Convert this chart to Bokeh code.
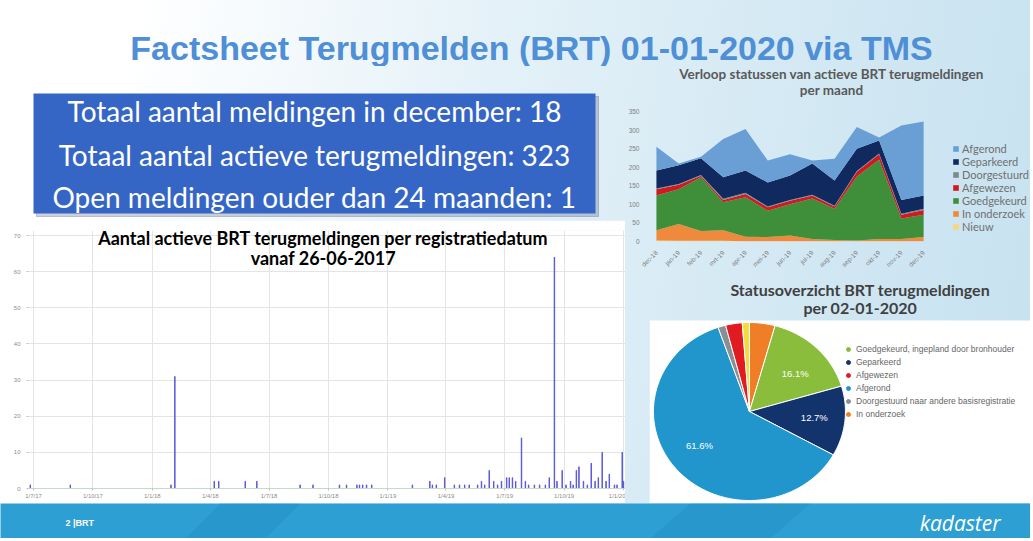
import numpy as np
import pandas as pd
from math import pi
from bokeh.plotting import figure
from bokeh.layouts import column, row
from bokeh.models import (ColumnDataSource, Range1d, FixedTicker, Legend, LegendItem, Label)
from bokeh.core.properties import value
from bokeh.embed import file_html
from bokeh.resources import INLINE

# ---------------- data ----------------
main_title = "Factsheet Terugmelden (BRT) 01-01-2020 via TMS"
stats_lines = ["Totaal aantal meldingen in december: 18",
               "Totaal aantal actieve terugmeldingen: 323",
               "Open meldingen ouder dan 24 maanden: 1"]

bar_title = ["Aantal actieve BRT terugmeldingen per registratiedatum", "vanaf 26-06-2017"]
bar_dates = ["2017-06-26", "2017-08-27", "2018-01-30", "2018-02-05", "2018-04-07", "2018-04-14",
             "2018-05-25", "2018-06-12", "2018-08-18", "2018-09-07", "2018-10-18", "2018-10-29",
             "2018-11-14", "2018-11-18", "2018-11-23", "2018-11-29", "2018-12-07", "2019-02-08",
             "2019-03-07", "2019-03-11", "2019-03-17", "2019-03-30", "2019-04-14", "2019-04-22",
             "2019-04-30", "2019-05-07", "2019-05-20", "2019-05-26", "2019-05-31", "2019-06-07",
             "2019-06-14", "2019-06-20", "2019-06-26", "2019-07-04", "2019-07-08", "2019-07-13",
             "2019-07-18", "2019-07-27", "2019-08-02", "2019-08-07", "2019-08-16", "2019-08-24",
             "2019-09-02", "2019-09-08", "2019-09-16", "2019-09-20", "2019-09-28", "2019-10-04",
             "2019-10-11", "2019-10-15", "2019-10-20", "2019-10-24", "2019-10-31", "2019-11-06",
             "2019-11-12", "2019-11-18", "2019-11-23", "2019-11-29", "2019-12-05", "2019-12-10",
             "2019-12-18", "2019-12-22", "2019-12-30", "2020-01-01"]
bar_counts = [1, 1, 1, 31, 2, 2, 2, 2, 1, 1,
              1, 1, 1, 1, 1, 1, 1, 1, 2, 1,
              1, 3, 1, 1, 1, 1, 1, 2, 1, 5,
              2, 1, 2, 3, 3, 3, 2, 14, 2, 1,
              1, 1, 1, 3, 64, 2, 5, 1, 2, 1,
              5, 6, 2, 1, 7, 2, 3, 10, 2, 4,
              1, 1, 10, 2]
bar_tick_dates = ["2017-07-01", "2017-10-01", "2018-01-01", "2018-04-01", "2018-07-01", "2018-10-01",
                  "2019-01-01", "2019-04-01", "2019-07-01", "2019-10-01", "2020-01-01"]
bar_tick_labels = ["1/7/17", "1/10/17", "1/1/18", "1/4/18", "1/7/18", "1/10/18",
                   "1/1/19", "1/4/19", "1/7/19", "1/10/19", "1/1/20"]
bar_y_ticks = [0, 10, 20, 30, 40, 50, 60, 70]

area_title = ["Verloop statussen van actieve BRT terugmeldingen", "per maand"]
months = ["dec-18", "jan-19", "feb-19", "mrt-19", "apr-19", "mei-19", "jun-19",
          "jul-19", "aug-19", "sep-19", "okt-19", "nov-19", "dec-19"]
nieuw = [3, 2, 2, 2, 1, 1, 1, 1, 1, 1, 1, 1, 1]
in_onderzoek = [27, 45, 26, 28, 12, 11, 15, 6, 3, 2, 6, 6, 11]
goedgekeurd = [94, 94, 145, 76, 106, 71, 84, 109, 84, 172, 213, 55, 60]
afgewezen = [17, 12, 4, 6, 9, 9, 10, 8, 6, 13, 15, 10, 13]
doorgestuurd = [2, 2, 2, 3, 3, 2, 2, 2, 2, 2, 2, 3, 3]
geparkeerd = [48, 50, 45, 58, 60, 65, 66, 84, 68, 60, 35, 37, 36]
afgerond = [64, 5, 4, 103, 112, 59, 57, 8, 59, 58, 8, 200, 199]
area_names = ["Nieuw", "In onderzoek", "Goedgekeurd", "Afgewezen", "Doorgestuurd", "Geparkeerd", "Afgerond"]
area_y_ticks = [0, 50, 100, 150, 200, 250, 300, 350]

pie_title = ["Statusoverzicht BRT terugmeldingen", "per 02-01-2020"]
pie_status = ["In onderzoek", "Goedgekeurd, ingepland door bronhouder", "Geparkeerd", "Afgerond",
              "Doorgestuurd naar andere basisregistratie", "Afgewezen", "Nieuw"]
pie_pct = [4.3, 16.1, 12.7, 61.6, 1.3, 2.8, 1.2]
pie_legend = ["Goedgekeurd, ingepland door bronhouder", "Geparkeerd", "Afgewezen", "Afgerond",
              "Doorgestuurd naar andere basisregistratie", "In onderzoek"]

footer_left = "2 |BRT"
footer_right = "kadaster"

# ---------------- style ----------------
FONT = "Lato"
AREA_COLORS = ["#f6d77c", "#ef8a3c", "#3f8f3a", "#cf1a1f", "#7d8a87", "#10295e", "#6a9fd6"]
PIE_COLORS = ["#f07e26", "#8bbd3c", "#12336b", "#2196cc", "#8a8f94", "#e01b22", "#f3dc3a"]
DAY = 86400000


def ms(d):
    return int(pd.Timestamp(d).value // 10**6)


def blank(p):
    p.grid.visible = False
    p.outline_line_color = None
    p.background_fill_color = None
    p.border_fill_color = None
    return p


W = 1030
LEFT_W = 625
RIGHT_W = W - LEFT_W
LEFT_B = 28    # shared left border of the left column
RIGHT_B = 20   # shared left border of the right column

# ---- title strip (page y 0-66) ----
pt = blank(figure(width=W, height=66, x_range=Range1d(0, W), y_range=Range1d(66, 0),
                  x_axis_location=None, y_axis_location=None, min_border=0,
                  output_backend="svg", toolbar_location=None))
pt.text(x=[531], y=[47], text=[main_title], text_font=value("Liberation Sans"),
        text_font_style="bold", text_font_size="34px", text_color="#4f8fd6",
        text_align="center", text_baseline="middle")

# ---- stats box (page y 66-220) ----
ps = blank(figure(width=LEFT_W, height=154, x_range=Range1d(LEFT_B, LEFT_W), y_range=Range1d(154, 0),
                  x_axis_location=None, y_axis_location=None, min_border=0, min_border_left=LEFT_B,
                  output_backend="svg", toolbar_location=None))
ps.quad(left=[36], right=[598], top=[30], bottom=[150], color="#1c2f55", alpha=0.22)
ps.quad(left=[33], right=[595], top=[27], bottom=[147], color="#3566c6", line_color=None)
ps.text(x=[314] * 3, y=[44, 88, 130], text=stats_lines, text_font=value(FONT),
        text_font_size="28px", text_color="white", text_align="center", text_baseline="middle")

# ---- bar chart (page y 220-503) ----
px_per_day = 0.6455
x0 = ms("2017-07-01") - 5 / px_per_day * DAY
x1 = x0 + (LEFT_W - LEFT_B) / px_per_day * DAY
bx = [ms(d) for d in bar_dates]
pb = figure(width=LEFT_W, height=283, x_range=Range1d(x0, x1), y_range=Range1d(0, 71.4),
            min_border_left=LEFT_B, min_border_right=0, min_border_top=10, min_border_bottom=15,
            output_backend="svg", toolbar_location=None)
pb.background_fill_color = "white"
pb.border_fill_color = "white"
pb.outline_line_color = None
pb.vbar(x=bx, top=bar_counts, width=0.8 * DAY, color="#5050d8", line_width=0.8)
tick_ms = [ms(d) for d in bar_tick_dates]
pb.xaxis.ticker = FixedTicker(ticks=tick_ms)
pb.xaxis.major_label_overrides = {t: l for t, l in zip(tick_ms, bar_tick_labels)}
pb.yaxis.ticker = FixedTicker(ticks=bar_y_ticks)
for ax in (pb.xaxis, pb.yaxis):
    ax.major_label_text_font = "Liberation Sans"
    ax.major_label_text_font_size = "6px"
    ax.major_label_text_color = "#8c8c8c"
    ax.minor_tick_line_color = None
    ax.major_tick_line_color = "#bfbfbf"
    ax.major_tick_in = 0
    ax.major_tick_out = 2
pb.xaxis.axis_line_color = "#c9d9c9"
pb.yaxis.axis_line_color = None
pb.xaxis.major_label_standoff = 2
pb.yaxis.major_label_standoff = 6
pb.grid.grid_line_color = "#e4e4e4"
mid = ms("2018-09-23")
for txt, yv in zip(bar_title, [69.2, 63.9]):
    pb.add_layout(Label(x=mid, y=yv, text=txt, text_font=FONT, text_font_style="bold",
                        text_font_size="18px", text_align="center", text_baseline="middle",
                        text_color="black"))

# ---- area chart (page y 66-280); plot area spans page x 652-922, y 111-241 ----
ax_px = 270 / 12           # px per month
ay_px = 130 / 350          # px per unit
ax0 = -(652 - 645) / ax_px
pa = blank(figure(width=RIGHT_W, height=214,
                  x_range=Range1d(ax0, ax0 + (RIGHT_W - RIGHT_B) / ax_px),
                  y_range=Range1d(0, 175 / ay_px),
                  min_border_left=RIGHT_B, min_border_right=0, min_border_top=0, min_border_bottom=39,
                  output_backend="svg", toolbar_location=None))
asrc = ColumnDataSource({"x": list(range(len(months))), "Nieuw": nieuw, "In onderzoek": in_onderzoek,
                         "Goedgekeurd": goedgekeurd, "Afgewezen": afgewezen,
                         "Doorgestuurd": doorgestuurd, "Geparkeerd": geparkeerd, "Afgerond": afgerond})
rs = pa.varea_stack(stackers=area_names, x="x", color=AREA_COLORS, source=asrc)
pa.xaxis.ticker = FixedTicker(ticks=list(range(len(months))))
pa.xaxis.major_label_overrides = {i: m for i, m in enumerate(months)}
pa.xaxis.major_label_orientation = pi / 4
pa.yaxis.ticker = FixedTicker(ticks=area_y_ticks)
for ax in (pa.xaxis, pa.yaxis):
    ax.major_label_text_font = "Liberation Sans"
    ax.major_label_text_font_size = "6.5px"
    ax.major_label_text_color = "#808080"
    ax.axis_line_color = None
    ax.major_tick_line_color = None
    ax.minor_tick_line_color = None
    ax.major_label_standoff = 4
legend_a = Legend(items=[LegendItem(label=n, renderers=[r]) for n, r in reversed(list(zip(area_names, rs)))],
                  location=(303, 8), glyph_width=7, glyph_height=7, label_height=13, spacing=0,
                  padding=0, margin=0, label_standoff=3, background_fill_alpha=0,
                  border_line_color=None, label_text_font=FONT, label_text_font_size="11px",
                  label_text_color="#707070")
pa.add_layout(legend_a)
# title lines above the stacked areas (page y 73 and 89, centred on page x 829)
for txt, py in zip(area_title, [73, 89]):
    pa.add_layout(Label(x=(829 - 652) / ax_px, y=(241 - py) / ay_px, text=txt, text_font=FONT,
                        text_font_style="bold", text_font_size="13.5px", text_color="#595959",
                        text_align="center", text_baseline="middle"))

# ---- pie chart (page y 280-503); white panel from page x 645, y 320 ----
pp = blank(figure(width=RIGHT_W, height=223, x_range=Range1d(0, RIGHT_W - RIGHT_B), y_range=Range1d(0, 223),
                  x_axis_location=None, y_axis_location=None, min_border_left=RIGHT_B, min_border_right=0,
                  min_border_top=0, min_border_bottom=0, output_backend="svg", toolbar_location=None))
pp.quad(left=[0], right=[RIGHT_W - RIGHT_B], bottom=[0], top=[183], color="white", line_color=None)
cx, cy, rx, ry = 101, 92, 97, 89
cum = np.cumsum([0] + pie_pct) / sum(pie_pct) * 2 * pi
xs, ys, lx, ly, lt = [], [], [], [], []
for i in range(len(pie_pct)):
    t = np.linspace(cum[i], cum[i + 1], max(3, int((cum[i + 1] - cum[i]) * 40)))
    xs.append([cx] + list(cx + rx * np.sin(t)))
    ys.append([cy] + list(cy + ry * np.cos(t)))
    if pie_pct[i] > 10:
        m = (cum[i] + cum[i + 1]) / 2
        lx.append(cx + 0.68 * rx * np.sin(m))
        ly.append(cy + 0.6 * ry * np.cos(m))
        lt.append(f"{pie_pct[i]:.1f}%")
pp.patches(xs, ys, fill_color=PIE_COLORS, line_color="white", line_width=1)
pp.text(x=lx, y=ly, text=lt, text_font=value("Liberation Sans"), text_font_size="9.5px",
        text_color="white", text_align="center", text_baseline="middle")
items = []
for name in pie_legend:
    r = pp.scatter(x=[np.nan], y=[np.nan], marker="circle", size=8,
                   color=PIE_COLORS[pie_status.index(name)])
    items.append(LegendItem(label=name, renderers=[r]))
legend_p = Legend(items=items, location=(194, 83), glyph_width=10, glyph_height=10, label_height=13,
                  spacing=0, padding=0, margin=0, label_standoff=3, background_fill_alpha=0,
                  border_line_color=None, label_text_font="Liberation Sans",
                  label_text_font_size="8.5px", label_text_color="#666666")
pp.add_layout(legend_p)
for txt, yv in zip(pie_title, [214, 196]):
    pp.add_layout(Label(x=213, y=yv, text=txt, text_font=FONT, text_font_style="bold",
                        text_font_size="16px", text_color="#404040", text_align="center",
                        text_baseline="middle"))

# ---- footer (page y 503-538) ----
pf = figure(width=W, height=35, x_range=Range1d(0, W), y_range=Range1d(35, 0),
            x_axis_location=None, y_axis_location=None, min_border=0,
            output_backend="svg", toolbar_location=None)
pf.grid.visible = False
pf.outline_line_color = None
pf.background_fill_color = "#2d9fd2"
pf.border_fill_color = "#2d9fd2"
pf.patches(xs=[[220, 300, 265, 185], [690, 810, 770, 650]], ys=[[0, 0, 35, 35], [0, 0, 35, 35]],
           color="#2592c8", alpha=0.6, line_color=None)
pf.text(x=[65], y=[19], text=[footer_left], text_font=value("Liberation Sans"), text_font_style="bold",
        text_font_size="9px", text_color="white", text_align="left", text_baseline="middle")
pf.text(x=[1000], y=[19], text=[footer_right], text_font=value("Open Sans"), text_font_style="italic",
        text_font_size="21px", text_color="white", text_align="right", text_baseline="middle")

layout = column(pt, row(column(ps, pb), column(pa, pp)), pf,
                styles={"background": "linear-gradient(100deg, #ffffff 0%, #ffffff 12%, #e4f1f8 45%, #d2e8f3 75%, #c6e1f0 100%)"})

open("out.html", "w").write(file_html(layout, INLINE))
